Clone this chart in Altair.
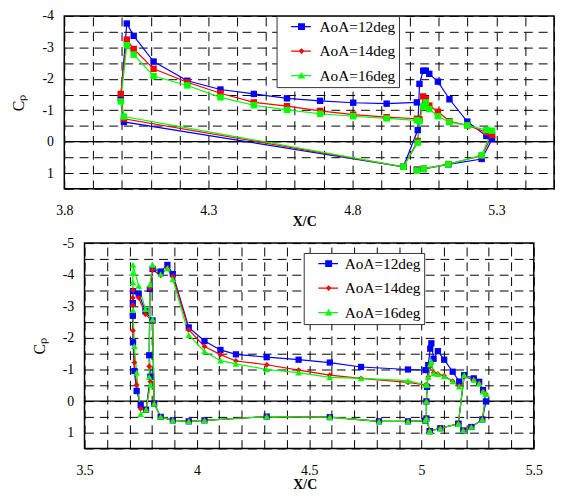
import altair as alt
import pandas as pd

FONT = "Liberation Serif"
SERIES = ["AoA=12deg", "AoA=14deg", "AoA=16deg"]
COLORS = ["#0000ff", "#ff0000", "#00ff00"]

# ---------------- top panel (two-element airfoil) ----------------
top_x = [5.024, 4.919, 4.803, 4.688, 4.573, 4.458, 4.342, 4.227, 4.110, 4.041,
         4.017, 3.996, 4.007, 4.977, 5.027, 5.033, 5.046, 5.055, 5.067, 5.097,
         5.137, 5.199, 5.265, 5.285, 5.249, 5.133, 5.048, 5.024]
top_cp12 = [-1.25, -1.21, -1.24, -1.30, -1.38, -1.52, -1.66, -1.94, -2.55, -3.37,
            -3.76, -1.38, -0.63, 0.80, -0.37, -1.84, -2.26, -2.26, -2.16, -1.91,
            -1.35, -0.64, -0.18, -0.08, 0.55, 0.72, 0.87, 0.89]
top_cp14 = [-0.73, -0.78, -0.86, -0.98, -1.13, -1.25, -1.54, -1.89, -2.32, -2.95,
            -3.25, -1.52, -0.73, 0.80, -0.02, -0.71, -1.44, -1.35, -1.15, -0.95,
            -0.65, -0.52, -0.30, -0.21, 0.45, 0.71, 0.86, 0.90]
top_cp16 = [-0.68, -0.74, -0.81, -0.89, -1.01, -1.16, -1.41, -1.79, -2.09, -2.77,
            -3.07, -1.28, -0.80, 0.80, 0.03, -0.65, -1.12, -1.25, -1.04, -0.81,
            -0.62, -0.52, -0.37, -0.35, 0.43, 0.72, 0.86, 0.92]

# ---------------- bottom panel (slat + main + flaps) ----------------
# segment 1: main upper (TE -> LE), slat, main lower (LE -> TE)
b1_x = [5.018, 4.940, 4.731, 4.592, 4.453, 4.311, 4.174, 4.105, 4.034, 3.964,
        3.893, 3.869, 3.839, 3.803, 3.791, 3.788, 3.793, 3.774, 3.750, 3.732,
        3.722, 3.716, 3.715, 3.715, 3.716, 3.741, 3.771, 3.803, 3.810, 3.839,
        3.893, 3.964, 4.034, 4.311, 4.592, 4.811, 4.940, 5.016]
b1_cp12 = [-0.98, -1.00, -1.08, -1.22, -1.31, -1.39, -1.48, -1.62, -1.90, -2.33,
           -4.02, -4.31, -4.10, -4.18, -3.55, -1.45, -0.77, 0.27, 0.12, -0.32,
           -0.95, -1.86, -2.70, -3.10, -3.48, -3.40, -2.85, -2.55, 0.08, 0.50,
           0.61, 0.64, 0.61, 0.49, 0.51, 0.64, 0.64, 0.62]
b1_cp14 = [-0.51, -0.59, -0.72, -0.82, -0.98, -1.15, -1.27, -1.47, -1.73, -2.26,
           -3.95, -4.22, -3.98, -4.16, -3.58, -1.10, -0.62, 0.27, 0.24, -0.51,
           -1.22, -2.23, -3.04, -3.27, -3.51, -3.27, -2.75, -2.52, 0.08, 0.50,
           0.61, 0.64, 0.61, 0.49, 0.51, 0.64, 0.64, 0.62]
b1_cp16 = [-0.51, -0.65, -0.72, -0.75, -0.90, -1.00, -1.18, -1.28, -1.57, -2.09,
           -3.85, -4.20, -4.02, -4.31, -3.69, -0.77, -0.51, 0.27, 0.41, -0.90,
           -1.74, -2.88, -3.76, -4.05, -4.31, -3.65, -2.91, -2.59, 0.08, 0.50,
           0.61, 0.64, 0.61, 0.49, 0.51, 0.64, 0.64, 0.62]
# segment 2: first flap, leading edge and upper surface
b2_x = [5.037, 5.022, 5.022, 5.025, 5.030, 5.039, 5.044, 5.054, 5.073, 5.101, 5.139, 5.168]
b2_cp12 = [0.95, 0.55, 0.01, -0.45, -1.14, -1.66, -1.83, -1.34, -1.58, -1.31, -0.93, -0.62]
b2_cp14 = [0.95, 0.55, 0.01, -0.51, -0.77, -1.10, -1.20, -0.90, -0.86, -0.80, -0.63, -0.48]
b2_cp16 = [0.95, 0.55, 0.01, -0.51, -0.77, -1.16, -1.25, -0.88, -0.85, -0.78, -0.62, -0.46]
# segment 3: first flap lower surface and second flap
b3_x = [5.037, 5.084, 5.164, 5.190, 5.233, 5.257, 5.274, 5.287, 5.271, 5.222, 5.186, 5.164]
b3_cp12 = [0.95, 0.86, 0.72, -0.82, -0.72, -0.61, -0.35, 0.01, 0.58, 0.82, 0.93, 0.72]
b3_cp14 = [0.95, 0.86, 0.72, -0.78, -0.67, -0.56, -0.30, -0.22, 0.58, 0.82, 0.93, 0.72]
b3_cp16 = [0.95, 0.86, 0.72, -0.82, -0.67, -0.56, -0.30, -0.22, 0.58, 0.82, 0.93, 0.72]

# ---------------- axes ticks ----------------
top_grid_x = [3.8, 3.9, 4.0, 4.1, 4.2, 4.3, 4.4, 4.5, 4.6, 4.7, 4.8, 4.9, 5.0, 5.1, 5.2, 5.3, 5.4, 5.5]
top_label_x = [3.8, 4.3, 4.8, 5.3]
top_grid_y = [-4, -3.5, -3, -2.5, -2, -1.5, -1, -0.5, 0, 0.5, 1, 1.5]
top_label_y = [-4, -3, -2, -1, 0, 1]
bot_grid_x = [3.5, 3.6, 3.7, 3.8, 3.9, 4.0, 4.1, 4.2, 4.3, 4.4, 4.5, 4.6, 4.7, 4.8, 4.9,
              5.0, 5.1, 5.2, 5.3, 5.4, 5.5]
bot_label_x = [3.5, 4.0, 4.5, 5.0, 5.5]
bot_grid_y = [-5, -4.5, -4, -3.5, -3, -2.5, -2, -1.5, -1, -0.5, 0, 0.5, 1, 1.5]
bot_label_y = [-5, -4, -3, -2, -1, 0, 1]
zero_line = [0]

TOP_W, TOP_H = 496, 175
BOT_W, BOT_H = 455, 208


def build_df(segments):
    rows = []
    for si, s in enumerate(SERIES):
        for gi, (xs, cps) in enumerate(segments):
            for i, (x, c) in enumerate(zip(xs, cps[si])):
                rows.append({"x": x, "cp": c, "series": s, "sidx": si,
                             "seg": f"{si}-{gi}", "ord": i})
    return pd.DataFrame(rows)


top_df = build_df([(top_x, [top_cp12, top_cp14, top_cp16])])
bot_df = build_df([(b1_x, [b1_cp12, b1_cp14, b1_cp16]),
                   (b2_x, [b2_cp12, b2_cp14, b2_cp16]),
                   (b3_x, [b3_cp12, b3_cp14, b3_cp16])])


def label_expr(values):
    lst = ",".join(repr(v) for v in values)
    return (f"indexof([{lst}], datum.value) >= 0 ? "
            "((datum.value < 0 ? '-' : '') + format(abs(datum.value), '~g')) : ''")


def xaxis(values, labels, title_x, title_y):
    return alt.Axis(values=values, grid=True, gridDash=[9, 6], gridColor="black",
                    gridOpacity=1, gridWidth=1, ticks=False, tickSize=0, domain=False,
                    labelExpr=label_expr(labels), labelFont=FONT, labelFontSize=14,
                    labelColor="black", labelPadding=15, labelFlush=False,
                    labelOverlap=False, title="X/C", titleFont=FONT, titleFontSize=14,
                    titleFontWeight="bold", titleColor="black", titleX=title_x,
                    titleY=title_y, titleBaseline="middle")


def yaxis(values, labels, height):
    return alt.Axis(values=values, grid=True, gridDash=[9, 6], gridColor="black",
                    gridOpacity=1, gridWidth=1, ticks=False, tickSize=0, domain=False,
                    labelExpr=label_expr(labels), labelFont=FONT, labelFontSize=14,
                    labelColor="black", labelPadding=11, labelFlush=False,
                    labelOverlap=False, title="Cₚ", titleFont=FONT, titleFontSize=16,
                    titleFontWeight="normal", titleColor="black", titleX=-46,
                    titleY=height / 2, titleBaseline="middle", titleAngle=270)


# data-driven domain for the drawn marks, explicit domain for the legend scale
mark_scale = alt.Scale(range=COLORS)
legend_color_scale = alt.Scale(domain=SERIES, range=COLORS)
LINE = "M0.8,-0.13L4.8,-0.13L4.8,0.13L0.8,0.13Z"
legend_shapes = [LINE + " M2.2,-0.7L3.6,-0.7L3.6,0.7L2.2,0.7Z",
                 LINE + " M2.9,-0.6L3.5,0L2.9,0.6L2.3,0Z",
                 LINE + " M2.9,-0.75L3.65,0.6L2.15,0.6Z"]


def legend(lx, ly, offset, spaces):
    return alt.Legend(orient="none", legendX=lx, legendY=ly, title=None,
                      fillColor="white", strokeColor="#333333", padding=3,
                      symbolSize=100, symbolStrokeWidth=0, symbolOpacity=1,
                      labelOffset=offset, rowPadding=7.8, labelFont=FONT,
                      labelFontSize=15.5, labelColor="black",
                      labelExpr="datum.label + '" + " " * spaces + "'")


def panel(df, xs, ys, xax, yax, w, h, leg, markers):
    X = alt.X("x:Q", scale=xs, axis=xax)
    Y = alt.Y("cp:Q", scale=ys, axis=yax)
    zero = alt.Chart(pd.DataFrame({"cp": zero_line})).mark_rule(
        color="black", strokeWidth=1.3).encode(y=Y)
    lines = alt.Chart(df).mark_line(strokeWidth=1.2).encode(
        x=X, y=Y, stroke=alt.Stroke("series:N", scale=mark_scale, legend=None),
        detail="seg:N", order="ord:Q")
    layers = [zero, lines]
    for si, shape, size in markers:
        base = alt.Chart(df)
        if si is not None:
            base = base.transform_filter(alt.datum.sidx == si)
        layers.append(base.mark_point(shape=shape, filled=True, size=size, opacity=1).encode(
            x=X, y=Y, fill=alt.Fill("series:N", scale=mark_scale, legend=None),
            order=alt.Order("sidx:Q")))
    layers.append(alt.Chart(df).transform_filter("false").mark_point(
        filled=True, opacity=1).encode(
        x=X, y=Y,
        color=alt.Color("series:N", scale=legend_color_scale, legend=leg),
        shape=alt.Shape("series:N", scale=alt.Scale(domain=SERIES, range=legend_shapes),
                        legend=leg)))
    return alt.layer(*layers).properties(width=w, height=h)


top = panel(top_df,
            alt.Scale(domain=[3.8, 5.5], nice=False, zero=False),
            alt.Scale(domain=[-4, 1.5], reverse=True, nice=False, zero=False),
            xaxis(top_grid_x, top_label_x, 243, 33),
            yaxis(top_grid_y, top_label_y, TOP_H),
            TOP_W, TOP_H, legend(215, 0, 25, 6), [(None, "square", 42)])

bottom = panel(bot_df,
               alt.Scale(domain=[3.5, 5.5], nice=False, zero=False),
               alt.Scale(domain=[-5, 1.5], reverse=True, nice=False, zero=False),
               xaxis(bot_grid_x, bot_label_x, 223, 37),
               yaxis(bot_grid_y, bot_label_y, BOT_H),
               BOT_W, BOT_H, legend(222, 10, 23, 3),
               [(0, "square", 40), (1, "diamond", 34), (2, "triangle-up", 45)])

chart = alt.vconcat(top, bottom, spacing=55, center=True, bounds="flush").resolve_scale(
    color="independent", shape="independent", fill="independent", stroke="independent"
).resolve_legend(
    color="independent", shape="independent"
).properties(
    padding={"left": 2, "top": -3, "right": 0, "bottom": 0}
).configure_view(stroke="black", strokeWidth=1.5)

chart.save("out.html", embed_options={"renderer": "svg", "actions": False})
